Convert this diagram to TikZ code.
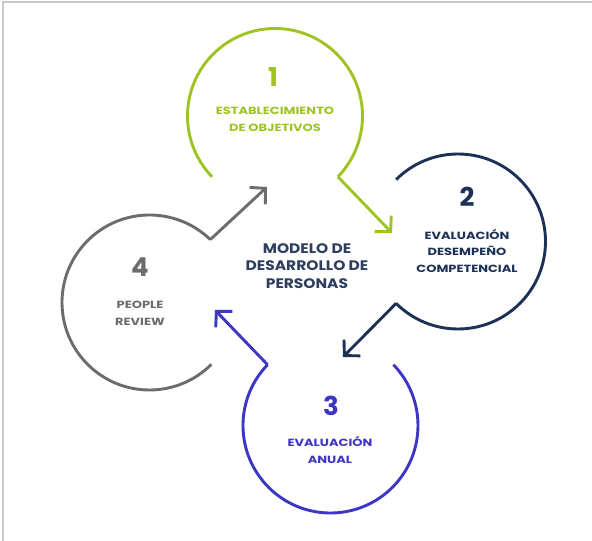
\documentclass[tikz,border=0pt]{standalone}
\usepackage{fontspec}
\setmainfont{Poppins}
\newfontfamily\lblfont{Poppins}[FakeStretch=1.25]
\newfontfamily\ctrfont{Poppins}[FakeStretch=1.12]
\usetikzlibrary{arrows.meta,calc}
\definecolor{cgreen}{HTML}{9DC423}
\definecolor{cnavy}{HTML}{1C3155}
\definecolor{cblue}{HTML}{3D35C4}
\definecolor{cgray}{HTML}{6C6C6C}
\definecolor{ctext}{HTML}{2E3E5E}
\definecolor{cframe}{HTML}{C8C8C8}
\tikzset{
  ring/.style={line width=2.9pt},
  flow/.style={line width=2.9pt,line join=miter,-{Straight Barb[length=11pt,width=23pt,line width=2.9pt]}},
  num/.style={font=\bfseries\fontsize{26}{26}\selectfont,inner sep=0pt},
  lbl/.style={font=\lblfont\bfseries\fontsize{10.4}{16.5}\selectfont,align=center,inner sep=0pt},
  ctr/.style={font=\ctrfont\bfseries\fontsize{13.8}{17.5}\selectfont,align=center,inner sep=0pt,text=ctext},
}
\begin{document}
\begin{tikzpicture}[x=1pt,y=1pt]
\useasboundingbox (0,0) rectangle (592,541);
\fill[white] (0,0) rectangle (592,541);
\draw[cframe,line width=1.5pt] (3,0) -- (3,539) -- (592,539);
% circle centres
\coordinate (c1) at (275,425);
\coordinate (c2) at (458,299.5);
\coordinate (c3) at (330.5,115.5);
\coordinate (c4) at (149.5,238.5);
% arc ends
\coordinate (e1) at ($(c1)+(-44:87.5)$);
\coordinate (e2) at ($(c2)+(225:87.5)$);
\coordinate (e3) at ($(c3)+(136:87.5)$);
\coordinate (e4) at ($(c4)+(46:87.5)$);
% arrow tips
\coordinate (t1) at (392,308);
\coordinate (t2) at (343,184);
\coordinate (t3) at (215,231);
\coordinate (t4) at (267,354);
% rings
\draw[ring,cgreen] (e1) arc[start angle=-44,end angle=224,radius=87.5];
\draw[ring,cnavy] (e2) arc[start angle=225,end angle=495,radius=87.5];
\draw[ring,cblue] (e3) arc[start angle=136,end angle=404,radius=87.5];
\draw[ring,cgray] (e4) arc[start angle=46,end angle=315,radius=87.5];
% arrows
\draw[flow,cgreen] (e1) -- (t1);
\draw[flow,cnavy] (e2) -- (t2);
\draw[flow,cblue] (e3) -- (t3);
\draw[flow,cgray] (e4) -- (t4);
% texts
\node[num,text=cgreen] (n1) at (273,464) {1};
\node[lbl,text=cgreen] (l1) at (275,421.5) {ESTABLECIMIENTO\\DE OBJETIVOS};
\node[num,text=cnavy] (n2) at (467,344) {2};
\node[lbl,text=cnavy] (l2) at (467,290.5) {EVALUACIÓN\\DESEMPEÑO\\COMPETENCIAL};
\node[num,text=cblue] (n3) at (331,135) {3};
\node[lbl,text=cblue] (l3) at (330,91) {EVALUACIÓN\\ANUAL};
\node[num,text=cgray] (n4) at (140,274) {4};
\node[lbl,text=cgray] (l4) at (140,227.5) {PEOPLE\\REVIEW};
\node[ctr] (m) at (307,275) {MODELO DE\\DESARROLLO DE\\PERSONAS};
\end{tikzpicture}
\end{document}
